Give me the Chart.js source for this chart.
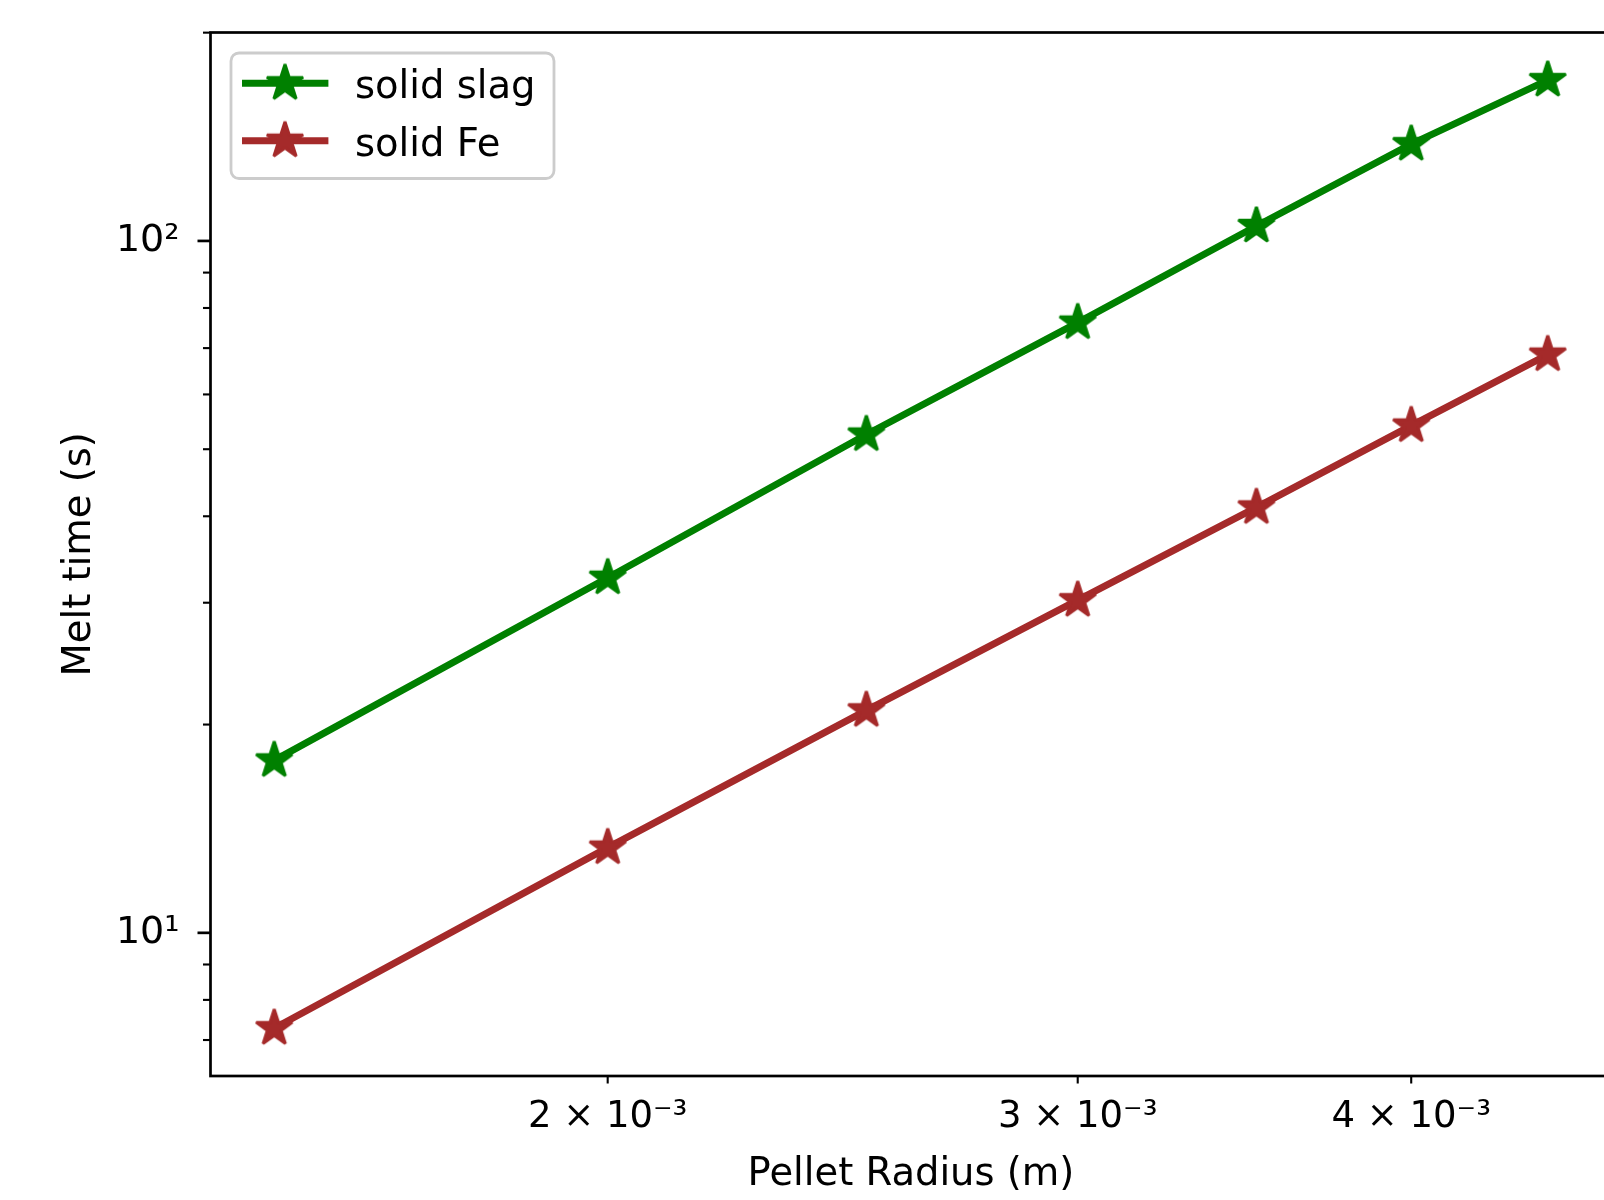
<!DOCTYPE html>
<html>
<head>
<meta charset="utf-8">
<script src="https://cdn.jsdelivr.net/npm/chart.js@4.4.1/dist/chart.umd.min.js"></script>
<style>
  html, body { margin: 0; padding: 0; background: #ffffff; overflow: hidden; }
  #wrap { position: absolute; left: 0; top: 0; width: 1620px; height: 1200px; }
</style>
</head>
<body>
<div id="wrap"><canvas id="c" width="1620" height="1200"></canvas></div>
<script>
// ---- data ----
const radii = [1.5e-3, 2.0e-3, 2.5e-3, 3.0e-3, 3.5e-3, 4.0e-3, 4.5e-3];
const slagTimes = [17.75, 32.6, 52.5, 76.2, 105.1, 138.0, 170.8];
const feTimes = [7.28, 13.28, 20.97, 30.25, 41.2, 54.1, 68.5];
const seriesNames = ['solid slag', 'solid Fe'];
const seriesColors = ['#008000', '#a52a2a'];
const xTickValues = [2e-3, 3e-3, 4e-3];
const xTickLabels = ['2 \u00d7 10\u207b\u00b3', '3 \u00d7 10\u207b\u00b3', '4 \u00d7 10\u207b\u00b3'];
const yMajorValues = [10, 100];
const yMajorLabels = ['10\u00b9', '10\u00b2'];
const yMinorValues = [7, 8, 9, 20, 30, 40, 50, 60, 70, 80, 90, 200];
const xLimits = [1.4198e-3, 4.754e-3];
const yLimits = [6.21, 200.1];

const FONT = 'DejaVu Sans';
Chart.defaults.font.family = FONT;
Chart.defaults.color = '#000';

function makeStar(color) {
  const c = document.createElement('canvas');
  c.width = 48; c.height = 48;
  const g = c.getContext('2d');
  const R = 19, r = R * 0.381966, cx = 24, cy = 24;
  g.beginPath();
  for (let k = 0; k < 10; k++) {
    const rad = (k % 2 === 0) ? R : r;
    const ang = -Math.PI / 2 + k * Math.PI / 5;
    const px = cx + rad * Math.cos(ang), py = cy + rad * Math.sin(ang);
    if (k === 0) g.moveTo(px, py); else g.lineTo(px, py);
  }
  g.closePath();
  g.fillStyle = color; g.fill();
  g.lineJoin = 'bevel'; g.lineWidth = 3; g.strokeStyle = color; g.stroke();
  return c;
}
const stars = seriesColors.map(makeStar);

const axisPlugin = {
  id: 'mplAxes',
  afterDatasetsDraw(chart) {
    const { ctx, chartArea: a, scales } = chart;
    const x = scales.x, y = scales.y;
    ctx.save();
    ctx.strokeStyle = '#000';
    const seg = (x1, y1, x2, y2, w) => { ctx.lineWidth = w; ctx.beginPath(); ctx.moveTo(x1, y1); ctx.lineTo(x2, y2); ctx.stroke(); };
    yMajorValues.forEach(v => { const p = y.getPixelForValue(v); seg(a.left - 13, p, a.left, p, 2.7); });
    yMinorValues.forEach(v => { const p = y.getPixelForValue(v); seg(a.left - 7.5, p, a.left, p, 2.1); });
    xTickValues.forEach(v => { const p = x.getPixelForValue(v); seg(p, a.bottom, p, a.bottom + 7.5, 2.1); });
    ctx.lineWidth = 2.7;
    ctx.strokeRect(a.left, a.top, a.right - a.left, a.bottom - a.top);
    ctx.restore();
  },
  afterDraw(chart) {
    const { ctx } = chart;
    ctx.save();
    const bx = 231, by = 53, bw = 323, bh = 125.5, rr = 8;
    ctx.beginPath();
    ctx.moveTo(bx + rr, by);
    ctx.arcTo(bx + bw, by, bx + bw, by + bh, rr);
    ctx.arcTo(bx + bw, by + bh, bx, by + bh, rr);
    ctx.arcTo(bx, by + bh, bx, by, rr);
    ctx.arcTo(bx, by, bx + bw, by, rr);
    ctx.closePath();
    ctx.fillStyle = 'rgba(255,255,255,0.8)';
    ctx.fill();
    ctx.lineWidth = 2.8; ctx.strokeStyle = '#cccccc'; ctx.stroke();
    const rows = [83.3, 140.7];
    chart.data.datasets.forEach((ds, i) => {
      const ly = rows[i];
      ctx.strokeStyle = ds.borderColor; ctx.lineWidth = 7; ctx.lineCap = 'butt';
      ctx.beginPath(); ctx.moveTo(242, ly); ctx.lineTo(328.4, ly); ctx.stroke();
      const img = stars[i];
      ctx.drawImage(img, 285 - img.width / 2, ly - img.height / 2);
      ctx.fillStyle = '#000';
      ctx.font = '38.5px "' + FONT + '"';
      ctx.textBaseline = 'alphabetic'; ctx.textAlign = 'left';
      ctx.fillText(ds.label, 355, ly + 15);
    });
    ctx.restore();
  }
};

new Chart(document.getElementById('c'), {
  type: 'line',
  data: {
    datasets: [
      { label: seriesNames[0], data: radii.map((r, i) => ({ x: r, y: slagTimes[i] })),
        borderColor: seriesColors[0], backgroundColor: seriesColors[0], borderWidth: 7,
        pointStyle: stars[0], pointRadius: 20, pointHoverRadius: 20, tension: 0, fill: false },
      { label: seriesNames[1], data: radii.map((r, i) => ({ x: r, y: feTimes[i] })),
        borderColor: seriesColors[1], backgroundColor: seriesColors[1], borderWidth: 7,
        pointStyle: stars[1], pointRadius: 20, pointHoverRadius: 20, tension: 0, fill: false }
    ]
  },
  options: {
    responsive: false, animation: false, devicePixelRatio: 1,
    layout: { autoPadding: false, padding: { top: 32.5, right: 8.6, left: 0, bottom: 0 } },
    plugins: { legend: { display: false }, tooltip: { enabled: false } },
    scales: {
      x: {
        type: 'logarithmic', position: 'bottom', min: xLimits[0], max: xLimits[1],
        afterBuildTicks: s => { s.ticks = xTickValues.map(v => ({ value: v })); },
        afterFit: s => { s.height = 124; s.paddingLeft = 0; s.paddingRight = 0; },
        grid: { display: false, drawTicks: false }, border: { display: false },
        ticks: { autoSkip: false, maxRotation: 0, minRotation: 0, padding: 19.5, color: '#000',
          font: { family: FONT, size: 37 }, callback: (v, i) => xTickLabels[i] },
        title: { display: true, text: 'Pellet Radius (m)', color: '#000',
          font: { family: FONT, size: 38.5 }, padding: { top: 0, bottom: 2 } }
      },
      y: {
        type: 'logarithmic', position: 'left', min: yLimits[0], max: yLimits[1],
        afterBuildTicks: s => { s.ticks = yMajorValues.map(v => ({ value: v })); },
        afterFit: s => { s.width = 210.5; s.paddingTop = 0; s.paddingBottom = 0; },
        grid: { display: false, drawTicks: false }, border: { display: false },
        ticks: { autoSkip: false, padding: 31, color: '#000',
          font: { family: FONT, size: 38 }, callback: (v, i) => yMajorLabels[i] },
        title: { display: true, text: 'Melt time (s)', color: '#000',
          font: { family: FONT, size: 38.5 }, padding: { top: 57, bottom: 0 } }
      }
    }
  },
  plugins: [axisPlugin]
});
</script>
</body>
</html>
